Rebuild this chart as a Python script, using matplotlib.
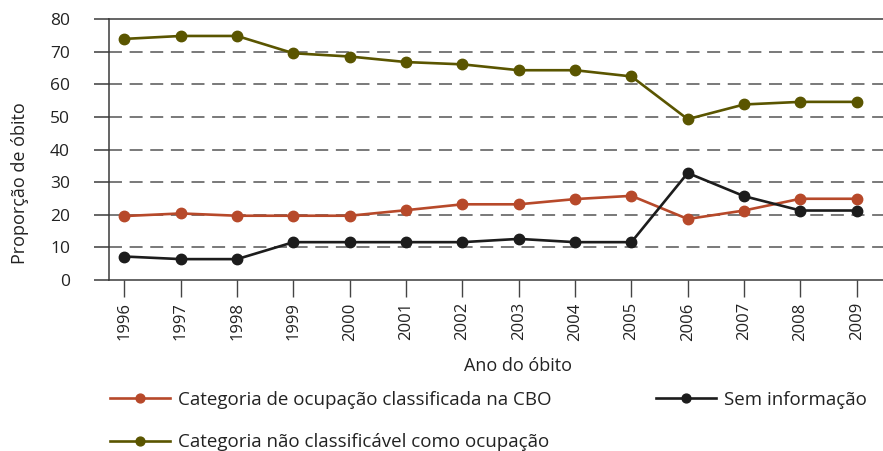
import matplotlib
matplotlib.use("Agg")
import matplotlib.pyplot as plt

years = [1996, 1997, 1998, 1999, 2000, 2001, 2002, 2003, 2004, 2005, 2006, 2007, 2008, 2009]
cbo = [19.6, 20.4, 19.7, 19.7, 19.7, 21.4, 23.2, 23.2, 24.8, 25.8, 18.7, 21.3, 24.9, 24.9]
sem_info = [7.2, 6.4, 6.4, 11.6, 11.6, 11.6, 11.6, 12.6, 11.6, 11.6, 32.8, 25.7, 21.3, 21.3]
nao_class = [73.9, 74.8, 74.8, 69.5, 68.5, 66.8, 66.1, 64.3, 64.3, 62.4, 49.3, 53.8, 54.6, 54.6]
yticks = [0, 10, 20, 30, 40, 50, 60, 70, 80]
labels = ["Categoria de ocupação classificada na CBO",
          "Categoria não classificável como ocupação",
          "Sem informação"]
colors = ["#b7492a", "#5a5500", "#1c1c1c"]

plt.rcParams['font.family'] = ['Open Sans', 'DejaVu Sans']

fig = plt.figure(figsize=(8.83, 4.51), dpi=100)
ax = fig.add_axes([109/883, (451-280)/451, 1 - 109/883, (280-19)/451])

ax.set_xlim(1995.725, 2009.467)
ax.set_ylim(0, 80)

for y in yticks[1:-1]:
    ax.axhline(y, color="#555555", linewidth=1.1, linestyle=(0, (8.5, 5)), zorder=1)

series = [cbo, nao_class, sem_info]
for vals, lab, col in zip(series, labels, colors):
    ax.plot(years, vals, color=col, linewidth=1.9, marker='o', markersize=7.5,
            label=lab, zorder=3)

ax.spines['right'].set_visible(False)
for s in ['left', 'top', 'bottom']:
    ax.spines[s].set_color("#3a3a3a")
    ax.spines[s].set_linewidth(1.1)

ax.set_yticks(yticks)
ax.set_yticklabels([str(v) for v in yticks])
ax.tick_params(axis='y', length=11, width=1.1, color="#3a3a3a", pad=17,
               labelsize=12.5, labelcolor="#222222")
ax.set_xticks(years)
ax.set_xticklabels([str(y) for y in years], rotation=90)
ax.tick_params(axis='x', length=12, width=1, color="#444444", pad=4,
               labelsize=12, labelcolor="#222222")

ax.set_ylabel("Proporção de óbito", fontsize=13, color="#222222")
ax.yaxis.set_label_coords(-80/774, 0.37)
ax.set_xlabel("Ano do óbito", fontsize=13, color="#222222")
ax.xaxis.set_label_coords((518-109)/774, -77/261)

handles, labs = ax.get_legend_handles_labels()
leg = fig.legend(handles, labs, ncol=2, loc='upper left',
                 bbox_to_anchor=(110/883, 1 - 391/451),
                 frameon=False, fontsize=13.5, handlelength=3.2,
                 handletextpad=0.4, columnspacing=5.6, labelspacing=1.3,
                 borderpad=0, borderaxespad=0, markerscale=0.85)
for t in leg.get_texts():
    t.set_color("#222222")

fig.savefig("out.png", dpi=100)
